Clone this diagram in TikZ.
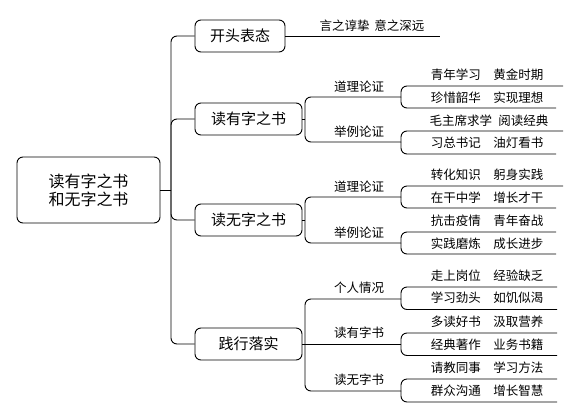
\documentclass[tikz,border=0pt]{standalone}
\usepackage{fontspec}
\setmainfont{Noto Sans CJK SC}
\begin{document}
\begin{tikzpicture}[x=1pt,y=-1pt, line width=0.9pt,
  box/.style={draw, rounded corners=6pt, minimum height=32pt, inner sep=0pt, font=\fontsize{15}{17}\selectfont},
  conn/.style={rounded corners=6pt},
  leaf/.style={inner sep=0pt, font=\fontsize{12.5}{14}\selectfont},
  lab/.style={inner sep=0pt, font=\fontsize{12.5}{14}\selectfont}]
\useasboundingbox (0,0) rectangle (581,418);
% root and main boxes
\node[box, minimum width=143pt, minimum height=66pt, align=center, font=\fontsize{16}{18}\selectfont] (root) at (88.5,190) {读有字之书\\和无字之书};
\node[box, minimum width=90pt] (b1) at (240,36) {开头表态};
\node[box, minimum width=107pt] (b2) at (248.5,119) {读有字之书};
\node[box, minimum width=107pt] (b3) at (248.5,220) {读无字之书};
\node[box, minimum width=107pt] (b4) at (248.5,344) {践行落实};
% trunk
\coordinate (t) at (171,190);
\draw (root.east) -- (t);
\draw[conn] (t) |- (b1.west);
\draw[conn] (t) |- (b2.west);
\draw[conn] (t) |- (b3.west);
\draw[conn] (t) |- (b4.west);
% branch 1
\coordinate (r1) at (440,36);
\draw (b1.east) -- (r1);
\node[leaf] (t1) at (372,26) {言之谆挚\hspace{0.4em}意之深远};
% branch 2
\coordinate (j2) at (305,119);
\coordinate (k21) at (401,97);
\coordinate (k22) at (401,142);
\draw (b2.east) -- (j2);
\draw[conn] (j2) |- (k21);
\draw[conn] (j2) |- (k22);
\node[lab] (m21) at (359,87) {道理论证};
\node[lab] (m22) at (359,132) {举例论证};
\coordinate (e211) at (563,86);
\coordinate (e212) at (556,108);
\coordinate (e221) at (563,131);
\coordinate (e222) at (556,154);
\draw[conn] (k21) |- (e211);
\draw[conn] (k21) |- (e212);
\draw[conn] (k22) |- (e221);
\draw[conn] (k22) |- (e222);
\node[leaf] (n211) at (487,75) {青年学习　黄金时期};
\node[leaf] (n212) at (487,97.5) {珍惜韶华　实现理想};
\node[leaf] (n221) at (489,120.5) {毛主席求学\hspace{0.5em}阅读经典};
\node[leaf] (n222) at (487,143) {习总书记　油灯看书};
% branch 3
\coordinate (j3) at (305,220);
\coordinate (k31) at (401,197);
\coordinate (k32) at (401,243);
\draw (b3.east) -- (j3);
\draw[conn] (j3) |- (k31);
\draw[conn] (j3) |- (k32);
\node[lab] (m31) at (359,187) {道理论证};
\node[lab] (m32) at (359,233) {举例论证};
\coordinate (e311) at (563,186);
\coordinate (e312) at (556,208);
\coordinate (e321) at (556,232);
\coordinate (e322) at (556,254);
\draw[conn] (k31) |- (e311);
\draw[conn] (k31) |- (e312);
\draw[conn] (k32) |- (e321);
\draw[conn] (k32) |- (e322);
\node[leaf] (n311) at (487,175) {转化知识　躬身实践};
\node[leaf] (n312) at (487,197.5) {在干中学　增长才干};
\node[leaf] (n321) at (487,221) {抗击疫情　青年奋战};
\node[leaf] (n322) at (487,243.5) {实践磨炼　成长进步};
% branch 4
\coordinate (j4) at (305,344);
\coordinate (k41) at (401,299);
\coordinate (k42) at (401,344);
\coordinate (k43) at (401,391);
\draw (b4.east) -- (j4);
\draw[conn] (j4) |- (k41);
\draw (j4) -- (k42);
\draw[conn] (j4) |- (k43);
\node[lab] (m41) at (359,288) {个人情况};
\node[lab] (m42) at (359,333) {读有字书};
\node[lab] (m43) at (359,380) {读无字书};
\coordinate (e411) at (557,287);
\coordinate (e412) at (557,309.5);
\coordinate (e421) at (557,333);
\coordinate (e422) at (557,355.5);
\coordinate (e431) at (557,379);
\coordinate (e432) at (557,402);
\draw[conn] (k41) |- (e411);
\draw[conn] (k41) |- (e412);
\draw[conn] (k42) |- (e421);
\draw[conn] (k42) |- (e422);
\draw[conn] (k43) |- (e431);
\draw[conn] (k43) |- (e432);
\node[leaf] (n411) at (487,275.5) {走上岗位　经验缺乏};
\node[leaf] (n412) at (487,298) {学习劲头　如饥似渴};
\node[leaf] (n421) at (487,322) {多读好书　汲取营养};
\node[leaf] (n422) at (487,345) {经典著作　业务书籍};
\node[leaf] (n431) at (487,368) {请教同事　学习方法};
\node[leaf] (n432) at (487,391) {群众沟通　增长智慧};
\end{tikzpicture}
\end{document}
